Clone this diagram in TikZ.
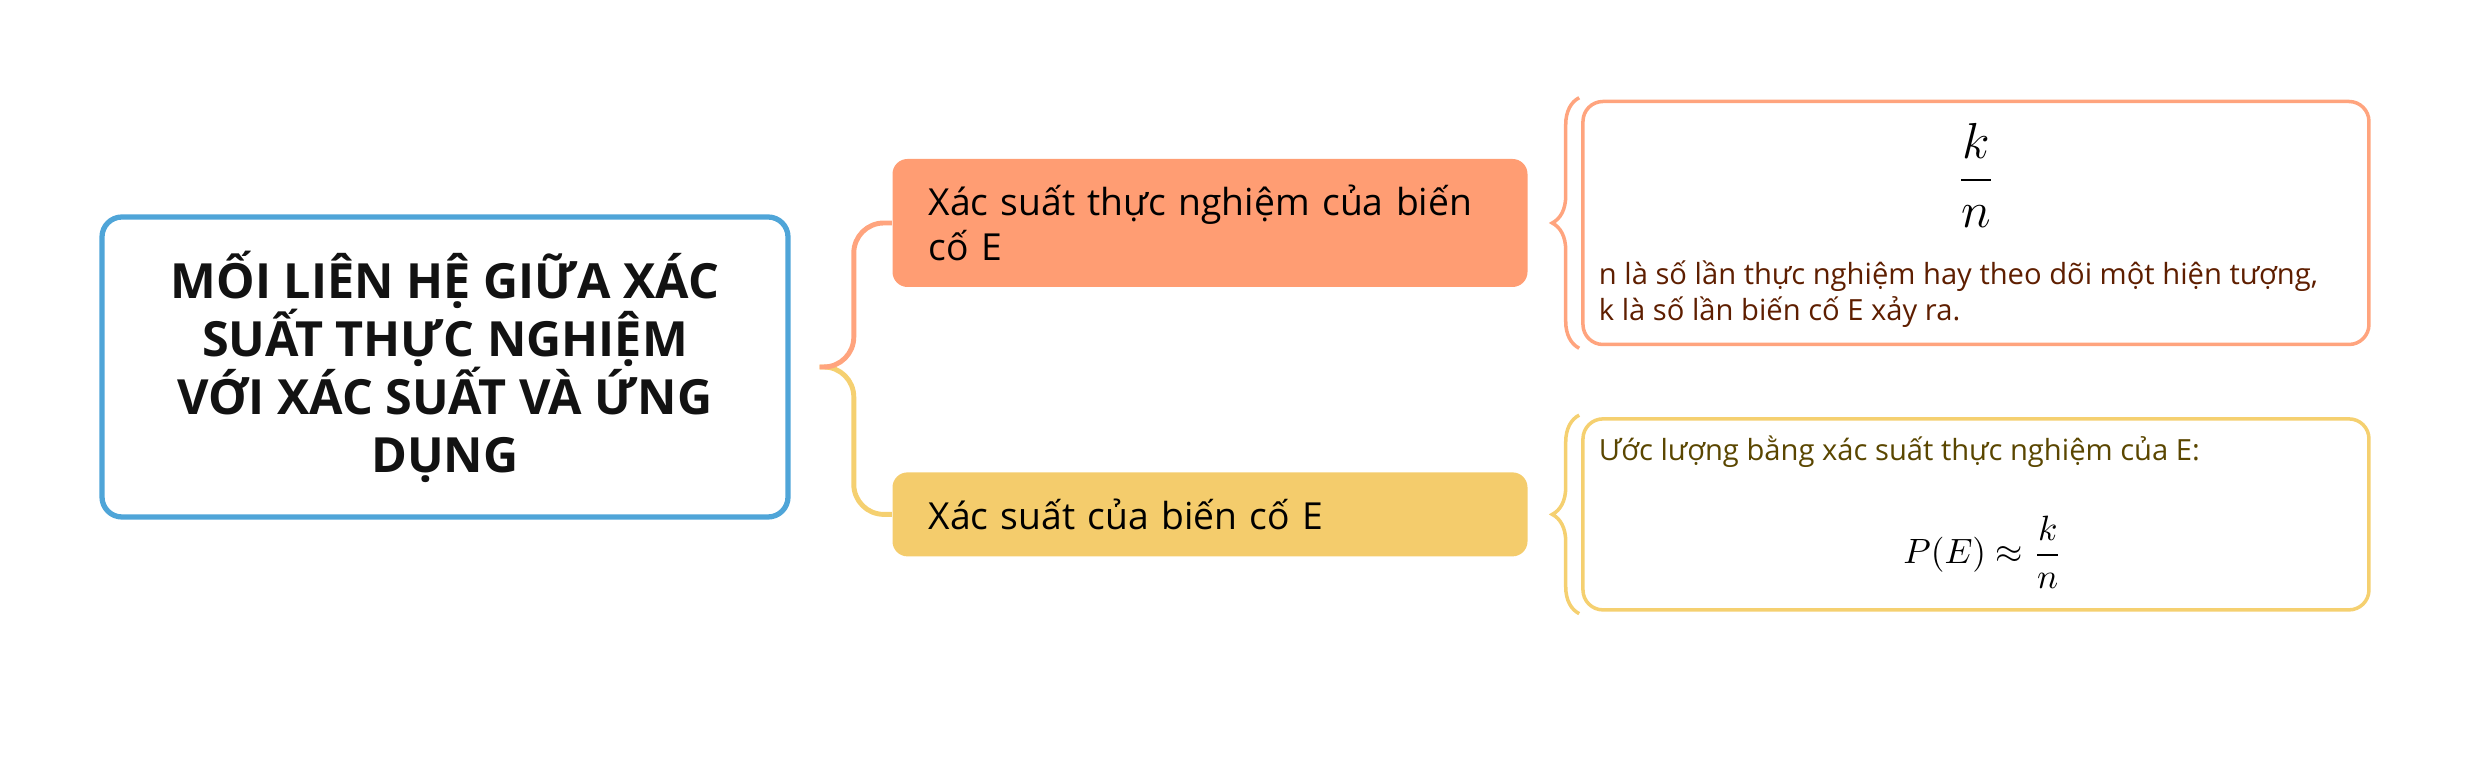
\documentclass[tikz,border=0pt]{standalone}
\usepackage{amsmath}
\usepackage{fontspec}
\setsansfont{Open Sans}
\usepackage{tikz}
\usetikzlibrary{positioning, decorations.pathreplacing}
\usepackage{xcolor}
\definecolor{topicblue}{HTML}{4FA5D8}
\definecolor{branchorange}{HTML}{FF9D73}
\definecolor{branchyellow}{HTML}{F4CC6C}
\definecolor{lineorange}{HTML}{FFA47E}
\definecolor{lineyellow}{HTML}{F5D070}
\definecolor{notered}{HTML}{5E1E00}
\definecolor{noteolive}{HTML}{5A4600}

\begin{document}
\begin{tikzpicture}[font=\sffamily,
    topic/.style={draw=topicblue, line width=1.5pt, rounded corners=0.2cm,
        minimum width=6.86cm, minimum height=3cm, align=center,
        text=black!93, font=\sffamily\bfseries\fontsize{13.8}{16.5}\selectfont},
    branch/.style={rounded corners=0.15cm, inner xsep=0.36cm, inner ysep=0pt,
        text width=5.63cm, align=left, minimum height=1.28cm,
        font=\sffamily\fontsize{10.6}{12.8}\selectfont},
    note/.style={line width=1pt, rounded corners=0.2cm, minimum width=7.86cm},
    link/.style={line width=1.4pt, rounded corners=0.3cm},
    curly/.style={line width=1pt, decorate, decoration={brace, amplitude=0.27cm}}
    ]
    \useasboundingbox (0,0) rectangle (24.70,-7.72);
    % Add the topic and the branches
        \node[topic] (main) at (4.45,-3.67)
            {MỐI LIÊN HỆ GIỮA XÁC\\ SUẤT THỰC NGHIỆM\\ VỚI XÁC SUẤT VÀ ỨNG\\ DỤNG};
        \node[branch,
            fill=branchorange
            ] (exp) at (12.10,-2.23) {Xác suất thực nghiệm của biến\\ cố E};
        \node[branch,
            fill=branchyellow,
            minimum height=0.84cm,
            below=1.84cm of exp
            ] (prob) {Xác suất của biến cố E};
    % Add the notes
        \node[note,
            draw=lineorange,
            minimum height=2.43cm,
            right=0.53cm of exp
            ] (note1) {};
        \node[note,
            draw=lineyellow,
            minimum height=1.91cm,
            right=0.53cm of prob
            ] (note2) {};
        \node[font=\fontsize{15}{17}\selectfont] (frac)
            at ([yshift=-0.76cm]note1.north) {$\dfrac{k}{n}$};
        \node[anchor=west, align=left, inner sep=0pt, text=notered,
            font=\sffamily\fontsize{8.3}{10.2}\selectfont] (def)
            at ([xshift=0.17cm,yshift=-0.715cm]note1.west)
            {n là số lần thực nghiệm hay theo dõi một hiện tượng,\\ k là số lần biến cố E xảy ra.};
        \node[anchor=west, inner sep=0pt, text=noteolive,
            font=\sffamily\fontsize{8.3}{10.2}\selectfont] (est)
            at ([xshift=0.17cm,yshift=0.625cm]note2.west)
            {Ước lượng bằng xác suất thực nghiệm của E:};
        \node[font=\fontsize{10}{12}\selectfont] (approx)
            at ([xshift=0.07cm,yshift=-0.375cm]note2.center) {$P(E)\approx\dfrac{k}{n}$};
    % Connectors
        \coordinate (fork) at ([xshift=0.29cm]main.east);
        \draw[link, draw=lineyellow]
            (fork) -| ([xshift=-0.38cm]prob.west) -- (prob.west);
        \draw[link, draw=lineorange]
            (fork) -| ([xshift=-0.38cm]exp.west) -- (exp.west);
        \draw[curly, draw=lineorange]
            ([shift={(-0.02cm,-0.02cm)}]note1.south west) -- ([shift={(-0.02cm,0.02cm)}]note1.north west);
        \draw[curly, draw=lineyellow]
            ([shift={(-0.02cm,-0.02cm)}]note2.south west) -- ([shift={(-0.02cm,0.02cm)}]note2.north west);
\end{tikzpicture}
\end{document}
